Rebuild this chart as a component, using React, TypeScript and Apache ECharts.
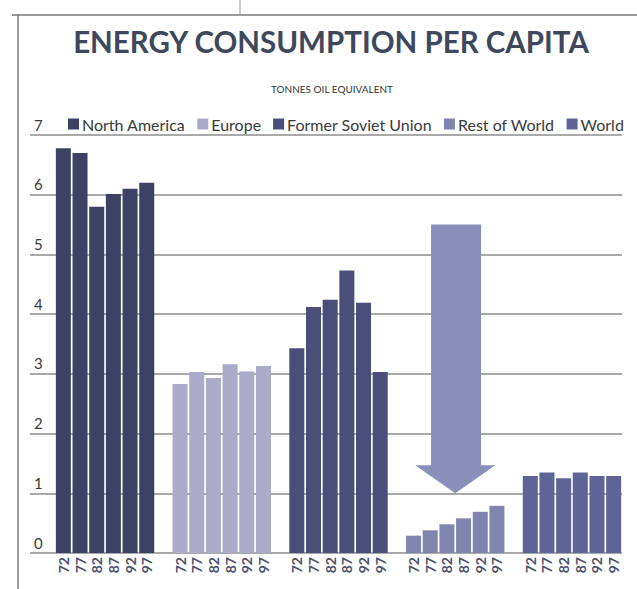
import React, { useEffect, useRef } from "react";
import * as echarts from "echarts";

// ---- Data (tonnes oil equivalent per capita) ----
const years = ["72", "77", "82", "87", "92", "97"];
const regions = ["North America", "Europe", "Former Soviet Union", "Rest of World", "World"];
const northAmerica = [6.78, 6.7, 5.8, 6.01, 6.1, 6.2];
const europe = [2.83, 3.03, 2.93, 3.16, 3.04, 3.13];
const formerSovietUnion = [3.43, 4.12, 4.24, 4.73, 4.19, 3.03];
const restOfWorld = [0.29, 0.38, 0.48, 0.58, 0.69, 0.79];
const world = [1.29, 1.35, 1.25, 1.35, 1.29, 1.29];
const yTicks = [0, 1, 2, 3, 4, 5, 6, 7];

const seriesValues = [northAmerica, europe, formerSovietUnion, restOfWorld, world];
const colors = ["#3d4264", "#aaabc8", "#4a4e78", "#7f85ae", "#5e6495"];

// layout of the slots on the x value axis
const LEAD = 2; // empty slots before first group
const GAP = 1; // empty slots between groups
const slotOf = (g: number, i: number) => LEAD + g * (years.length + GAP) + i;
const X_MAX = slotOf(regions.length - 1, years.length - 1) + 0.5;

const slotLabels = new Map<number, string>();
regions.forEach((_, g) => years.forEach((y, i) => slotLabels.set(slotOf(g, i), y)));

// decorative arrow over the Rest of World group (in data units)
const ARROW = { top: 5.5, headBase: 1.47, tip: 1.0, shaftL: 24.05, shaftR: 27.05, headL: 23.1, headR: 27.9 };

const FONT = "Lato, 'Open Sans', sans-serif";

export default function App() {
  const ref = useRef<HTMLDivElement>(null);
  useEffect(() => {
    if (!ref.current) return;
    const chart = echarts.init(ref.current, undefined, { renderer: "svg" });
    const barSeries = regions.map((name, g) => ({
      name,
      type: "bar",
      barWidth: 15,
      barGap: "-100%",
      z: 2,
      itemStyle: { color: colors[g] },
      data: seriesValues[g].map((v, i) => [slotOf(g, i), v]),
    }));
    const arrowSeries = {
      name: "arrow",
      type: "custom",
      z: 3,
      data: [[ARROW.shaftL, ARROW.top]],
      renderItem: (_p: any, api: any) => {
        const pts = [
          [ARROW.shaftL, ARROW.top],
          [ARROW.shaftR, ARROW.top],
          [ARROW.shaftR, ARROW.headBase],
          [ARROW.headR, ARROW.headBase],
          [(ARROW.headL + ARROW.headR) / 2, ARROW.tip],
          [ARROW.headL, ARROW.headBase],
          [ARROW.shaftL, ARROW.headBase],
        ].map((p) => api.coord(p));
        return { type: "polygon", shape: { points: pts }, style: { fill: "#8a8fb9" } };
      },
    };
    chart.setOption({
      animation: false,
      backgroundColor: "#ffffff",
      textStyle: { fontFamily: FONT },
      grid: { left: 30, right: 15, top: 135, bottom: 36, containLabel: false },
      legend: {
        data: regions,
        top: 111,
        left: 63,
        icon: "rect",
        itemWidth: 11,
        itemHeight: 11,
        itemGap: 12,
        textStyle: { fontSize: 16, color: "#3a3a3a", fontFamily: FONT, padding: [0, 0, 0, -2] },
      },
      xAxis: {
        type: "value",
        min: 0,
        max: X_MAX,
        interval: 1,
        axisLine: { show: false },
        axisTick: { show: false },
        splitLine: { show: false },
        axisLabel: {
          rotate: 90,
          margin: 4,
          fontSize: 14,
          fontWeight: "bold",
          color: "#4d516b",
          fontFamily: FONT,
          showMaxLabel: false,
          formatter: (v: number) => slotLabels.get(v) ?? "",
        },
      },
      yAxis: {
        type: "value",
        min: yTicks[0],
        max: yTicks[yTicks.length - 1],
        interval: 1,
        axisLine: { show: false },
        axisTick: { show: false },
        splitLine: { show: true, lineStyle: { color: "#8c8c8c", width: 1.5 } },
        axisLabel: {
          margin: -4,
          align: "left",
          verticalAlign: "bottom",
          padding: [0, 0, 3, 0],
          fontSize: 15,
          color: "#3a3a3a",
          fontFamily: FONT,
        },
      },
      series: [...barSeries, arrowSeries],
      graphic: [
        { type: "line", shape: { x1: 12, y1: 15, x2: 637, y2: 15 }, style: { stroke: "#777", lineWidth: 1.5 } },
        { type: "line", shape: { x1: 18, y1: 15, x2: 18, y2: 589 }, style: { stroke: "#777", lineWidth: 1.5 } },
        { type: "line", shape: { x1: 240, y1: 0, x2: 240, y2: 15 }, style: { stroke: "#999", lineWidth: 1 } },
        {
          type: "text",
          x: 331,
          y: 41,
          style: {
            text: "ENERGY CONSUMPTION PER CAPITA",
            align: "center",
            verticalAlign: "middle",
            fontSize: 29.5,
            fontWeight: "bold",
            fontFamily: FONT,
            fill: "#3e475c",
          },
        },
        {
          type: "text",
          x: 332,
          y: 89,
          style: {
            text: "TONNES OIL EQUIVALENT",
            align: "center",
            verticalAlign: "middle",
            fontSize: 10,
            fontFamily: FONT,
            fill: "#333",
          },
        },
      ],
    });
    return () => chart.dispose();
  }, []);
  return (
    <div
      ref={ref}
      style={{ position: "fixed", left: 0, top: 0, width: 637, height: 589, background: "#fff" }}
    />
  );
}
